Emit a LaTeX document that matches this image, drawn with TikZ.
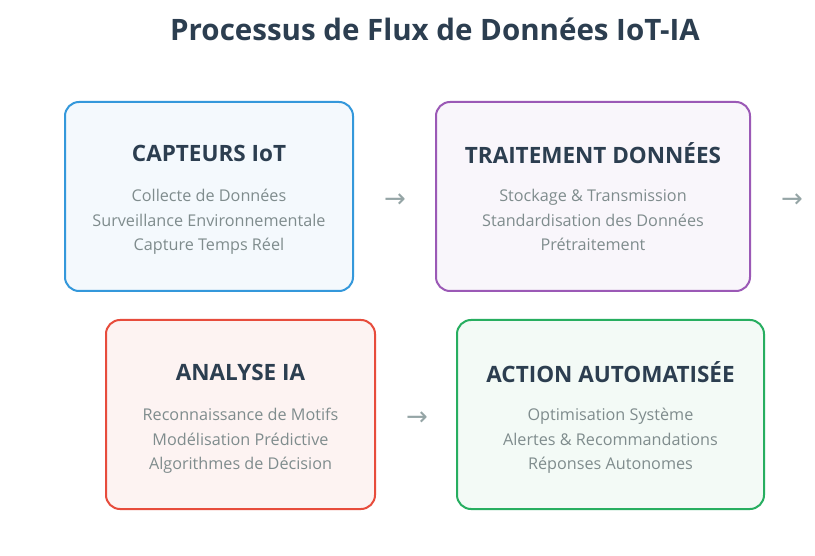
\documentclass[tikz,border=0pt]{standalone}
\usepackage{fontspec}
\setmainfont{Open Sans}
\newfontfamily\symfont{DejaVu Sans}
\definecolor{titlec}{HTML}{2C3E50}
\definecolor{bodyc}{HTML}{7F8C8D}
\definecolor{arrowc}{HTML}{95A5A6}
\definecolor{blueb}{HTML}{3498DB}
\definecolor{bluef}{HTML}{F4F9FD}
\definecolor{purpleb}{HTML}{9B59B6}
\definecolor{purplef}{HTML}{F9F6FB}
\definecolor{redb}{HTML}{E74C3C}
\definecolor{redf}{HTML}{FDF3F2}
\definecolor{greenb}{HTML}{27AE60}
\definecolor{greenf}{HTML}{F3FAF6}
\tikzset{
  stagebox/.style={draw=#1, line width=2pt, rounded corners=14pt, inner sep=0pt},
  boxtitle/.style={font=\fontsize{22.5}{26}\selectfont\bfseries, text=titlec, inner sep=0pt, anchor=center},
  boxbody/.style={font=\fontsize{16.2}{24.5}\selectfont, text=bodyc, align=center, inner sep=0pt, anchor=center, text depth=4pt},
  flowarrow/.style={font=\symfont\fontsize{26}{28}\selectfont, text=arrowc, inner sep=0pt}
}
\begin{document}
\begin{tikzpicture}[x=1pt,y=-1pt]
\useasboundingbox (0,0) rectangle (815,556);
\fill[white] (0,0) rectangle (815,556);
\node[font=\fontsize{29.5}{32}\selectfont\bfseries, text=titlec, inner sep=0pt] (title) at (435,29) {Processus de Flux de Données IoT-IA};

\draw[stagebox=blueb, fill=bluef] (65,102) rectangle (353,291);
\node[boxtitle] (t1) at (209,153) {CAPTEURS IoT};
\node[boxbody] (b1) at (209,222) {Collecte de Données\\Surveillance Environnementale\\Capture Temps Réel};

\draw[stagebox=purpleb, fill=purplef] (436,102) rectangle (750,291);
\node[boxtitle] (t2) at (593,153) {TRAITEMENT DONNÉES};
\node[boxbody] (b2) at (593,222) {Stockage \& Transmission\\Standardisation des Données\\Prétraitement};

\draw[stagebox=redb, fill=redf] (106,320) rectangle (375,509);
\node[boxtitle] (t3) at (240.5,372) {ANALYSE IA};
\node[boxbody] (b3) at (240.5,441) {Reconnaissance de Motifs\\Modélisation Prédictive\\Algorithmes de Décision};

\draw[stagebox=greenb, fill=greenf] (457,320) rectangle (764,509);
\node[boxtitle] (t4) at (610.5,372) {ACTION AUTOMATISÉE};
\node[boxbody] (b4) at (610.5,441) {Optimisation Système\\Alertes \& Recommandations\\Réponses Autonomes};

\node[flowarrow] (a1) at (395,201) {→};
\node[flowarrow] (a2) at (792,201) {→};
\node[flowarrow] (a3) at (417,419) {→};
\end{tikzpicture}
\end{document}
